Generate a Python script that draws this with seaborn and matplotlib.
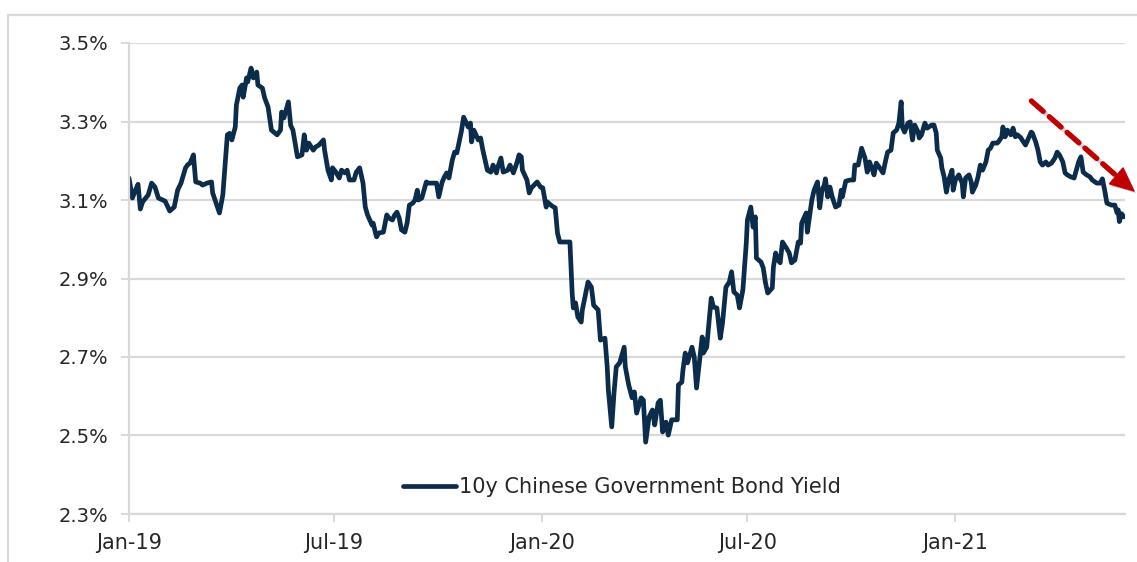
import matplotlib
matplotlib.use("Agg")
import matplotlib.pyplot as plt
import matplotlib.patheffects as pe
from matplotlib.patches import Rectangle
import seaborn as sns
import pandas as pd

# ---------------- data ----------------
dates_2019 = ["01-01", "01-04", "01-06", "01-09", "01-11", "01-13", "01-18", "01-21", "01-24", "01-27",
              "02-02", "02-06", "02-10", "02-13", "02-16", "02-20", "02-22", "02-24", "02-27",
              "03-01", "03-05", "03-07", "03-11", "03-15", "03-16", "03-21", "03-22", "03-25", "03-29", "03-31",
              "04-02", "04-05", "04-06", "04-09", "04-11", "04-12", "04-15", "04-16", "04-19", "04-21",
              "04-24", "04-25", "04-29",
              "05-01", "05-04", "05-07", "05-12", "05-15", "05-16", "05-18", "05-22", "05-24", "05-26", "05-30",
              "06-03", "06-05", "06-07", "06-09", "06-13", "06-15", "06-18", "06-22", "06-23", "06-26",
              "06-29", "06-30",
              "07-03", "07-06", "07-08", "07-11", "07-13", "07-15", "07-19", "07-21", "07-24", "07-27",
              "07-29", "07-31",
              "08-04", "08-05", "08-07", "08-08", "08-10", "08-14", "08-17", "08-19", "08-22", "08-24",
              "08-26", "08-28", "08-30",
              "09-02", "09-04", "09-06", "09-09", "09-11", "09-13", "09-14", "09-17", "09-19", "09-21",
              "09-23", "09-27", "09-30",
              "10-02", "10-05", "10-07", "10-09", "10-11", "10-14", "10-16", "10-18", "10-22", "10-24",
              "10-28", "10-30", "10-31",
              "11-02", "11-06", "11-08", "11-10", "11-14", "11-17", "11-19", "11-22", "11-23", "11-26", "11-28",
              "12-02", "12-04", "12-07", "12-10", "12-12", "12-14", "12-15", "12-19", "12-21", "12-23",
              "12-28", "12-31"]
yield_2019 = [3.156, 3.105, 3.120, 3.140, 3.077, 3.095, 3.113, 3.143, 3.133, 3.105,
              3.097, 3.072, 3.082, 3.125, 3.143, 3.182, 3.190, 3.194, 3.215,
              3.146, 3.143, 3.138, 3.143, 3.146, 3.118, 3.075, 3.067, 3.113, 3.266, 3.270,
              3.253, 3.286, 3.342, 3.385, 3.393, 3.362, 3.411, 3.401, 3.436, 3.411,
              3.426, 3.393, 3.385,
              3.360, 3.337, 3.278, 3.266, 3.278, 3.324, 3.309, 3.350, 3.290, 3.278, 3.210,
              3.215, 3.266, 3.227, 3.245, 3.227, 3.235, 3.240, 3.253, 3.227, 3.176,
              3.151, 3.182,
              3.171, 3.156, 3.176, 3.169, 3.176, 3.151, 3.151, 3.171, 3.182, 3.143,
              3.082, 3.062,
              3.036, 3.041, 3.016, 3.006, 3.016, 3.018, 3.062, 3.054, 3.049, 3.062,
              3.069, 3.054, 3.024,
              3.018, 3.041, 3.087, 3.092, 3.100, 3.125, 3.100, 3.105, 3.125, 3.146,
              3.143, 3.143, 3.143,
              3.108, 3.146, 3.159, 3.169, 3.156, 3.202, 3.222, 3.220, 3.275, 3.311,
              3.286, 3.296, 3.248,
              3.278, 3.253, 3.258, 3.227, 3.176, 3.171, 3.189, 3.169, 3.182, 3.207, 3.171,
              3.176, 3.189, 3.169, 3.194, 3.215, 3.210, 3.176, 3.151, 3.118, 3.131,
              3.146, 3.133]

dates_2020 = ["01-02", "01-05", "01-06", "01-10", "01-13", "01-14", "01-15", "01-17", "01-22", "01-26",
              "01-28", "01-29", "01-31",
              "02-02", "02-05", "02-06", "02-09", "02-11", "02-14", "02-16", "02-20", "02-22", "02-26",
              "02-28", "02-29",
              "03-03", "03-05", "03-07", "03-10", "03-14", "03-15", "03-18", "03-21", "03-23", "03-25",
              "03-29", "03-31",
              "04-02", "04-05", "04-08", "04-10", "04-13", "04-15", "04-17", "04-20", "04-22", "04-25", "04-30",
              "05-01", "05-04", "05-05", "05-07", "05-09", "05-13", "05-15", "05-17", "05-20", "05-22",
              "05-23", "05-26", "05-28", "05-30",
              "06-01", "06-04", "06-07", "06-09", "06-12", "06-15", "06-17", "06-19", "06-22", "06-24",
              "06-27", "06-30",
              "07-01", "07-04", "07-06", "07-08", "07-09", "07-13", "07-15", "07-17", "07-19", "07-23",
              "07-24", "07-26", "07-28", "07-30",
              "08-01", "08-05", "08-07", "08-09", "08-12", "08-15", "08-17", "08-18", "08-22", "08-23",
              "08-27", "08-29",
              "09-01", "09-03", "09-05", "09-07", "09-08", "09-10", "09-12", "09-14", "09-17", "09-20",
              "09-22", "09-23", "09-26", "09-30",
              "10-03", "10-04", "10-07", "10-10", "10-13", "10-15", "10-17", "10-19", "10-21", "10-23",
              "10-26", "10-29", "10-31",
              "11-02", "11-05", "11-07", "11-10", "11-12", "11-14", "11-15", "11-17", "11-20", "11-22",
              "11-24", "11-26", "11-29", "11-30",
              "12-02", "12-05", "12-07", "12-11", "12-13", "12-15", "12-16", "12-19", "12-20", "12-22",
              "12-24", "12-26", "12-29", "12-30"]
yield_2020 = [3.131, 3.082, 3.095, 3.085, 3.080, 3.049, 3.016, 2.993, 2.993, 2.993,
              2.863, 2.825, 2.838,
              2.802, 2.789, 2.820, 2.863, 2.891, 2.878, 2.832, 2.820, 2.743, 2.748,
              2.675, 2.616,
              2.522, 2.608, 2.675, 2.685, 2.725, 2.675, 2.629, 2.596, 2.611, 2.557,
              2.596, 2.590,
              2.483, 2.547, 2.565, 2.527, 2.583, 2.590, 2.509, 2.534, 2.501, 2.540, 2.540,
              2.629, 2.636, 2.667, 2.710, 2.685, 2.725, 2.700, 2.621, 2.700, 2.751,
              2.710, 2.725, 2.789, 2.850,
              2.827, 2.825, 2.748, 2.787, 2.878, 2.891, 2.917, 2.866, 2.858, 2.825,
              2.871, 2.990,
              3.049, 3.082, 3.031, 3.057, 2.952, 2.942, 2.927, 2.889, 2.863, 2.876,
              2.929, 2.965, 2.947, 2.940,
              2.993, 2.975, 2.965, 2.940, 2.947, 2.993, 2.990, 3.041, 3.067, 3.018,
              3.100, 3.125,
              3.146, 3.080, 3.125, 3.138, 3.154, 3.108, 3.133, 3.108, 3.082, 3.087,
              3.125, 3.108, 3.148, 3.151,
              3.151, 3.189, 3.189, 3.232, 3.207, 3.171, 3.197, 3.182, 3.164, 3.194,
              3.182, 3.169, 3.197,
              3.222, 3.227, 3.271, 3.278, 3.296, 3.350, 3.286, 3.273, 3.296, 3.299,
              3.253, 3.291, 3.273, 3.258,
              3.266, 3.296, 3.283, 3.291, 3.291, 3.271, 3.227, 3.207, 3.182, 3.159,
              3.120, 3.151, 3.176, 3.125]

dates_2021 = ["01-01", "01-04", "01-07", "01-08", "01-10", "01-13", "01-15", "01-16", "01-19", "01-21",
              "01-23", "01-25", "01-28", "01-30",
              "02-01", "02-03", "02-07", "02-08", "02-11", "02-12", "02-14", "02-16", "02-19", "02-21",
              "02-23", "02-25", "02-28",
              "03-01", "03-04", "03-06", "03-09", "03-10", "03-13", "03-15", "03-17", "03-19", "03-22",
              "03-24", "03-27", "03-30",
              "04-01", "04-03", "04-06", "04-08", "04-10", "04-13", "04-16", "04-18", "04-20", "04-22",
              "04-24", "04-27", "04-30",
              "05-02", "05-06", "05-09", "05-11", "05-13", "05-15", "05-19", "05-22", "05-24", "05-25",
              "05-26", "05-28", "05-30"]
yield_2021 = [3.151, 3.164, 3.143, 3.108, 3.156, 3.164, 3.146, 3.120, 3.138, 3.159,
              3.189, 3.176, 3.197, 3.227,
              3.232, 3.245, 3.245, 3.248, 3.261, 3.286, 3.261, 3.278, 3.266, 3.283,
              3.261, 3.266, 3.258,
              3.253, 3.240, 3.253, 3.273, 3.271, 3.248, 3.227, 3.197, 3.189, 3.197,
              3.189, 3.194, 3.207,
              3.222, 3.215, 3.197, 3.169, 3.164, 3.159, 3.156, 3.176, 3.197, 3.210,
              3.171, 3.164, 3.159,
              3.151, 3.143, 3.143, 3.154, 3.125, 3.092, 3.087, 3.087, 3.067, 3.075,
              3.045, 3.065, 3.057]

series_name = "10y Chinese Government Bond Yield"
x_tick_dates = ["2019-01-01", "2019-07-01", "2020-01-01", "2020-07-01", "2021-01-01"]
x_tick_labels = ["Jan-19", "Jul-19", "Jan-20", "Jul-20", "Jan-21"]
y_ticks = [2.3, 2.5, 2.7, 2.9, 3.1, 3.3, 3.5]
y_tick_labels = ["2.3%", "2.5%", "2.7%", "2.9%", "3.1%", "3.3%", "3.5%"]

# ---------------- build frame ----------------
all_dates = ([f"2019-{d}" for d in dates_2019] + [f"2020-{d}" for d in dates_2020]
             + [f"2021-{d}" for d in dates_2021])
all_vals = yield_2019 + yield_2020 + yield_2021
df = pd.DataFrame({"date": pd.to_datetime(all_dates), "yield": all_vals})

# ---------------- style ----------------
NAVY = "#0b2c4b"
GRID = "#d9d9d9"
TEXT = "#262626"
RED = "#c00000"

sns.set_theme(style="white")
plt.rcParams["font.family"] = ["DejaVu Sans"]

W, H = 1137, 562
fig = plt.figure(figsize=(W / 100, H / 100), dpi=100)
fig.patch.set_facecolor("white")
ax = fig.add_axes([129 / W, (H - 514) / H, (1125 - 129) / W, (514 - 43) / H])

sns.lineplot(data=df, x="date", y="yield", ax=ax, color=NAVY, linewidth=3.4,
             label=series_name, legend=False)

ax.set_xlim(pd.Timestamp("2019-01-01"), pd.Timestamp("2021-05-31"))
ax.set_ylim(2.3, 3.5)
ax.set_yticks(y_ticks)
ax.set_yticklabels(y_tick_labels)
ax.set_xticks(pd.to_datetime(x_tick_dates))
ax.set_xticklabels(x_tick_labels)
ax.set_xlabel("")
ax.set_ylabel("")

ax.grid(axis="y", color=GRID, linewidth=1.6)
ax.grid(axis="x", visible=False)
ax.set_axisbelow(True)
for s in ["top", "right"]:
    ax.spines[s].set_visible(False)
for s in ["left", "bottom"]:
    ax.spines[s].set_color(GRID)
    ax.spines[s].set_linewidth(1.6)

ax.tick_params(axis="both", which="major", direction="out", length=6, width=1.4,
               color=GRID, labelcolor=TEXT)
ax.tick_params(axis="y", pad=9, left=True, labelsize=14)
ax.tick_params(axis="x", pad=8, bottom=True, labelsize=15)

leg = ax.legend(loc="center", bbox_to_anchor=(0.495, 0.057), frameon=False, fontsize=15,
                handlelength=2.5, handletextpad=0.15)
for t in leg.get_texts():
    t.set_color(TEXT)

# ---------------- annotation arrow ----------------
shadow = [pe.SimpleLineShadow(offset=(1.5, -1.5), shadow_color="gray", alpha=0.35), pe.Normal()]
a1 = ax.annotate("", xy=(0.993, 0.715), xytext=(0.906, 0.877), xycoords="axes fraction",
                 textcoords="axes fraction", annotation_clip=False,
                 arrowprops=dict(arrowstyle="-", color=RED, lw=3.8, linestyle=(0, (3, 1.5)),
                                 shrinkA=0, shrinkB=0))
a1.arrow_patch.set_path_effects(shadow)
a2 = ax.annotate("", xy=(1.010, 0.684), xytext=(0.990, 0.720), xycoords="axes fraction",
                 textcoords="axes fraction", annotation_clip=False,
                 arrowprops=dict(arrowstyle="-|>,head_length=1.1,head_width=0.5", color=RED,
                                 lw=1, mutation_scale=15, shrinkA=0, shrinkB=0))
a2.arrow_patch.set_path_effects([pe.SimplePatchShadow(offset=(1.5, -1.5), alpha=0.3), pe.Normal()])

# ---------------- outer border ----------------
fig.patches.append(Rectangle((8 / W, -0.05), 1.2, (H - 15) / H + 0.05, transform=fig.transFigure,
                             fill=False, edgecolor=GRID, linewidth=1.6))

fig.savefig("out.png", dpi=100, facecolor="white")
